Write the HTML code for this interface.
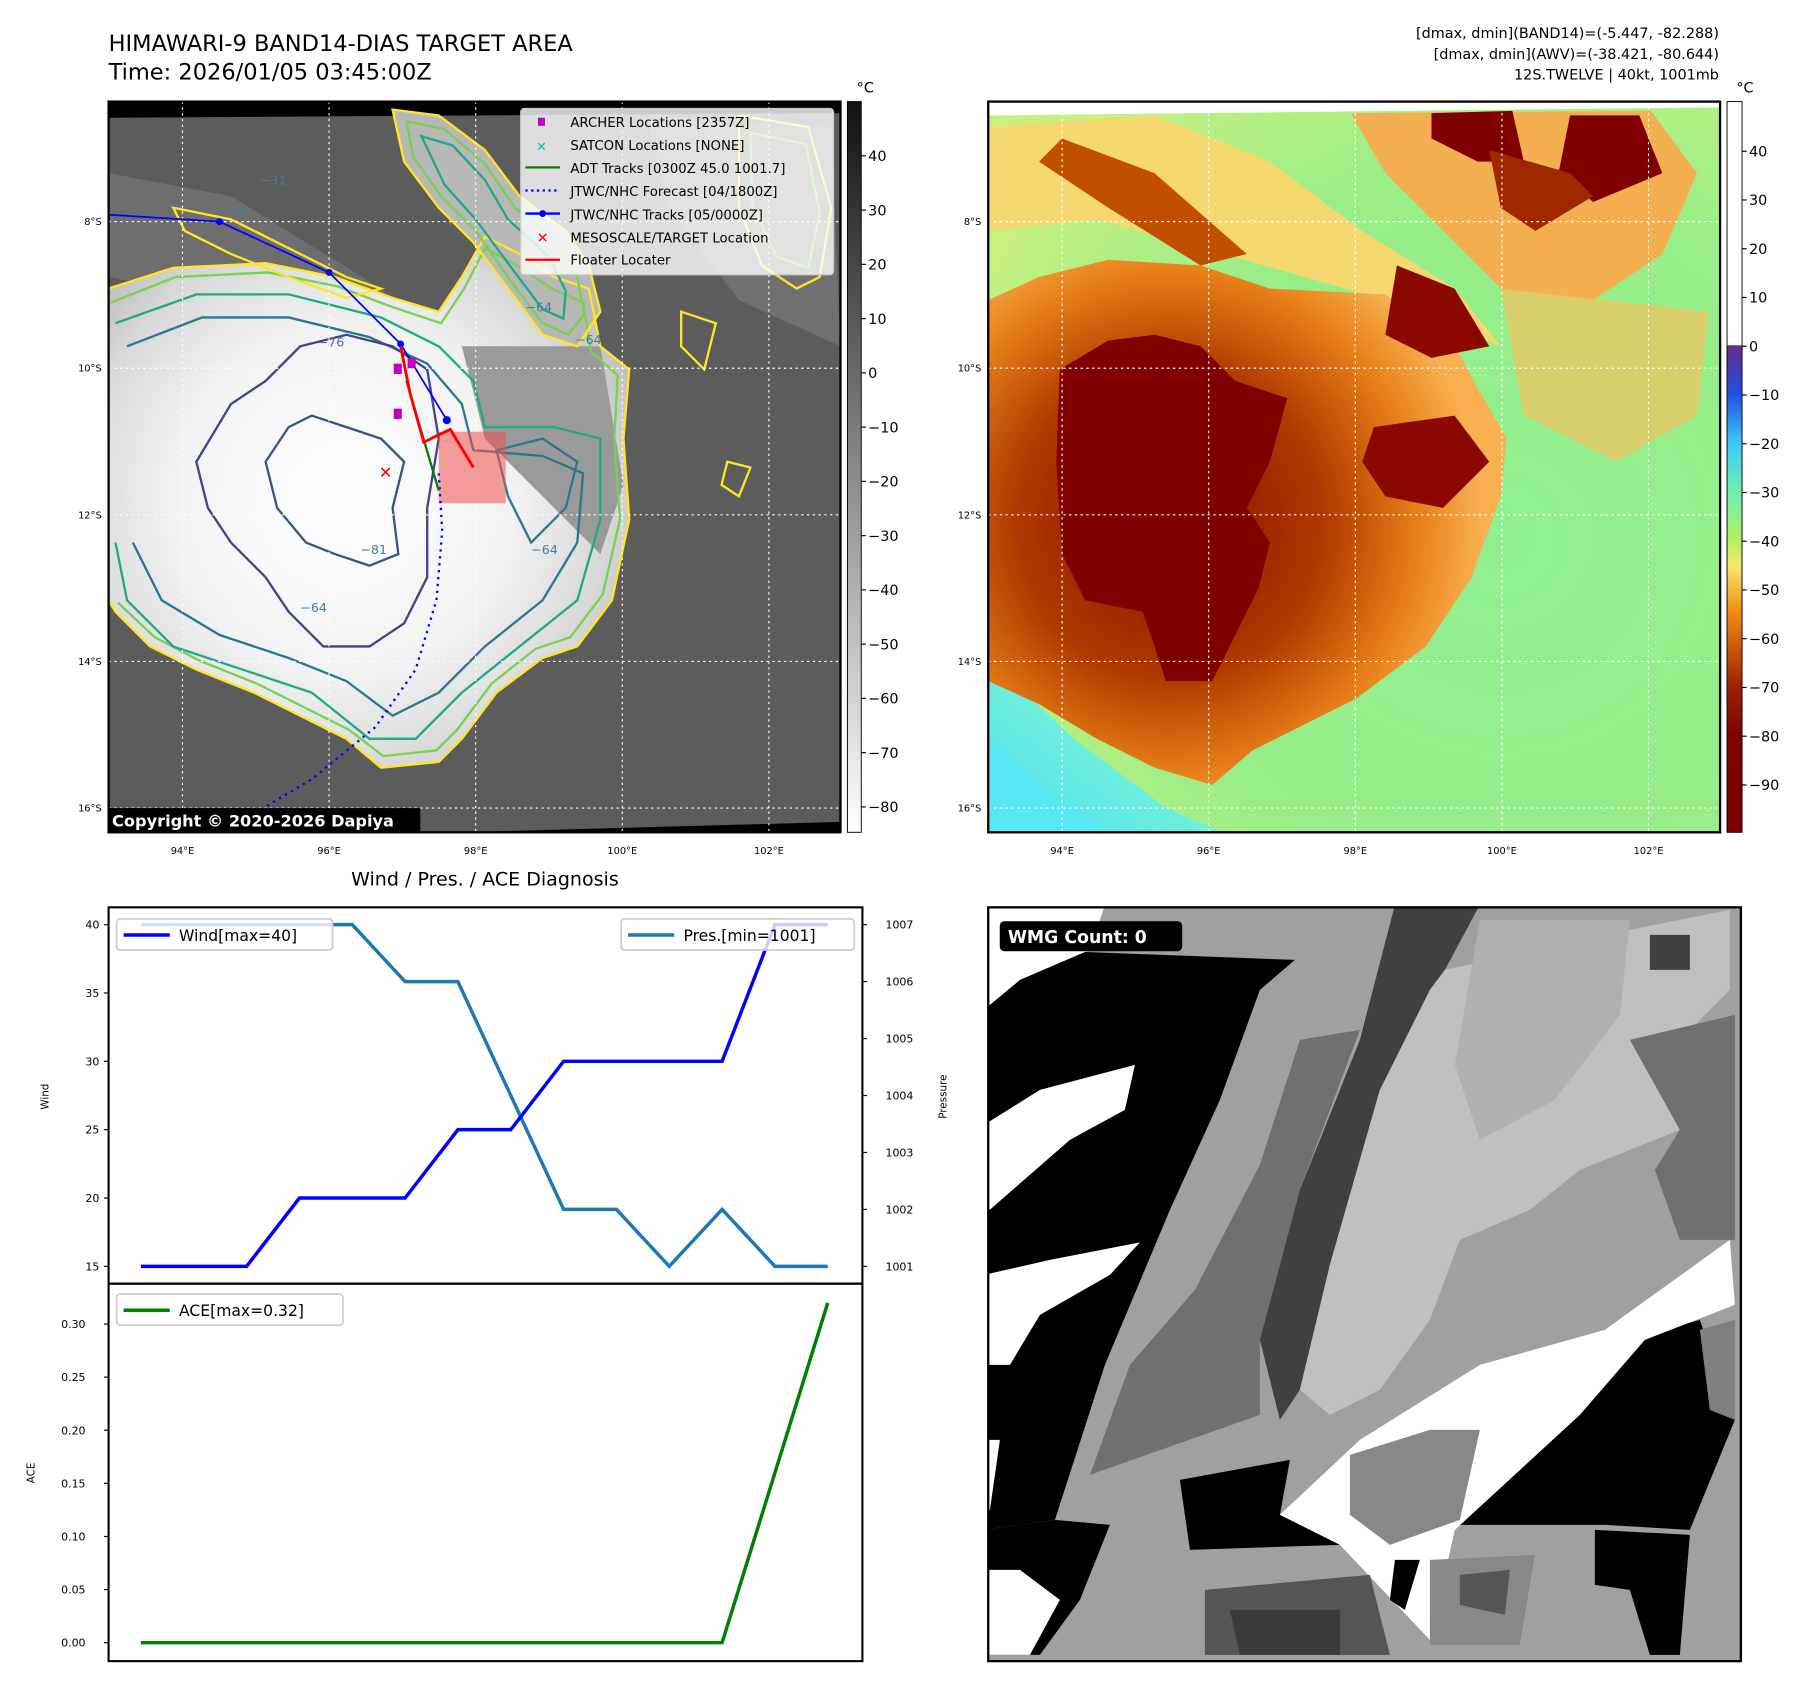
<!DOCTYPE html>
<html><head><meta charset="utf-8"><style>
html,body{margin:0;padding:0;background:#fff;overflow:hidden;width:1801px;height:1690px;}
svg{display:block;font-family:"DejaVu Sans","Liberation Sans",sans-serif;}
</style></head><body>
<svg id="root" xmlns="http://www.w3.org/2000/svg" width="1801" height="1690" viewBox="0 0 1560 1464">
<defs>
  <radialGradient id="irblob" cx="0.45" cy="0.5" r="0.6">
    <stop offset="0" stop-color="#ffffff"/><stop offset="0.55" stop-color="#f2f2f2"/><stop offset="0.85" stop-color="#d8d8d8"/><stop offset="1" stop-color="#c0c0c0"/>
  </radialGradient>
  <linearGradient id="cbL" x1="0" y1="0" x2="0" y2="1">
    <stop offset="0" stop-color="#111"/><stop offset="1" stop-color="#fff"/>
  </linearGradient>
  <linearGradient id="cbR" x1="0" y1="0" x2="0" y2="1">
    <stop offset="0" stop-color="#fff"/><stop offset="0.333" stop-color="#fff"/>
    <stop offset="0.334" stop-color="#6a2a8a"/><stop offset="0.40" stop-color="#2050e0"/>
    <stop offset="0.468" stop-color="#40c8f8"/><stop offset="0.534" stop-color="#70f0b0"/>
    <stop offset="0.60" stop-color="#b0f060"/><stop offset="0.635" stop-color="#f8e870"/>
    <stop offset="0.70" stop-color="#f08a10"/><stop offset="0.80" stop-color="#a02000"/>
    <stop offset="0.87" stop-color="#800000"/><stop offset="1" stop-color="#7a0000"/>
  </linearGradient>
  <radialGradient id="greenbg" cx="0.7" cy="0.6" r="0.8">
    <stop offset="0" stop-color="#90f090"/><stop offset="0.6" stop-color="#98ee88"/><stop offset="1" stop-color="#c8f080"/>
  </radialGradient>
  <linearGradient id="cyanbl" x1="0" y1="1" x2="1" y2="0">
    <stop offset="0" stop-color="#50e0f8"/><stop offset="0.5" stop-color="#70f0d8"/><stop offset="1" stop-color="#90f0a0" stop-opacity="0"/>
  </linearGradient>
  <radialGradient id="halo" cx="0.35" cy="0.5" r="0.6">
    <stop offset="0" stop-color="#8a0800"/><stop offset="0.5" stop-color="#b03a00"/><stop offset="0.8" stop-color="#e88018"/><stop offset="1" stop-color="#f8b050"/>
  </radialGradient>
  <clipPath id="clipL"><rect x="94" y="88" width="634" height="633"/></clipPath>
  <clipPath id="clipR"><rect x="856" y="88" width="634" height="633"/></clipPath>
  <clipPath id="clipW"><rect x="856" y="786" width="652" height="653"/></clipPath>
</defs>

<text x="94" y="44" font-size="19.5">HIMAWARI-9 BAND14-DIAS TARGET AREA</text>
<text x="94" y="69" font-size="19.5">Time: 2026/01/05 03:45:00Z</text>
<g font-size="12.5" text-anchor="end">
  <text x="1489" y="33">[dmax, dmin](BAND14)=(-5.447, -82.288)</text>
  <text x="1489" y="51">[dmax, dmin](AWV)=(-38.421, -80.644)</text>
  <text x="1489" y="69">12S.TWELVE | 40kt, 1001mb</text>
</g>

<!-- LEFT MAP -->
<g clip-path="url(#clipL)">
  <rect x="94" y="88" width="634" height="633" fill="#5c5c5c"/>
  <path d="M94,88 H728 V98 L94,102 Z" fill="#000"/>
  <path d="M400,721 L728,712 V721 Z" fill="#000"/>
  <path d="M94,150 L200,170 L330,250 L360,280 L300,300 L200,260 L94,240Z" fill="#6e6e6e"/>
  <path d="M560,100 L720,110 L728,300 L640,260 L580,180Z" fill="#707070"/>
  <path d="M94,250 150,232 230,228 290,240 340,258 380,270 400,240 420,205 450,220 480,240 510,250 520,300 545,320 540,380 545,450 530,520 500,560 470,570 430,600 400,640 380,660 330,665 300,640 260,620 220,600 170,580 130,560 100,530 94,520Z" fill="url(#irblob)"/>
  <path d="M340,95 380,100 420,130 450,170 490,200 510,230 520,270 500,300 470,290 440,250 410,210 380,180 350,140Z" fill="#b8b8b8"/>
  <path d="M400,300 L520,300 L540,420 L520,480 L470,430 L420,380Z" fill="#9a9a9a"/>
  <g fill="none" stroke-width="2">
    <path d="M94,250 150,232 230,228 290,240 340,258 380,270 400,240 420,205 450,220 480,240 510,250 520,300 545,320 540,380 545,450 530,520 500,560 470,570 430,600 400,640 380,660 330,665 300,640 260,620 220,600 170,580 130,560 100,530 94,520" stroke="#fde725"/>
    <path d="M96,262 152,240 232,236 292,248 340,266 382,280 402,250 420,215 448,230 478,250 505,262 512,305 535,325 532,380 537,450 522,515 494,552 464,562 426,592 396,632 378,650 332,655 302,632 262,612 222,592 172,572 134,552 102,522" stroke="#7ad151"/>
    <path d="M100,280 170,255 250,255 330,275 380,300 410,330 420,370 480,370 520,380 520,450 500,520 450,560 400,600 360,640 320,640 270,600 210,580 150,560 110,520 100,470" stroke="#22a884"/>
    <path d="M110,300 175,275 250,275 320,292 370,315 400,350 410,390 470,395 505,410 500,470 470,520 420,560 380,600 340,620 300,590 250,570 190,550 140,520 115,470" stroke="#2a788e"/>
    <path d="M170,400 200,350 230,330 260,300 300,290 340,300 370,320 380,380 370,440 370,500 350,540 320,560 280,560 250,530 230,500 200,470 180,440Z" stroke="#414487"/>
    <path d="M230,400 250,370 270,360 300,370 330,380 350,400 340,440 345,480 320,490 290,480 265,470 240,440Z" stroke="#3b528b"/>
    <path d="M340,95 380,100 420,130 450,170 490,200 510,230 520,270 500,300 470,290 440,250 410,210 380,180 350,140Z" stroke="#fde725"/>
    <path d="M352,105 385,112 420,142 446,180 484,210 500,240 506,272 492,290 470,280 440,240 412,200 382,170 358,136Z" stroke="#7ad151"/>
    <path d="M365,118 392,126 420,156 440,190 475,222 490,252 488,276 470,268 440,228 412,190 385,160Z" stroke="#22a884"/>
    <path d="M150,180 200,190 250,215 300,240 330,250 300,258 250,240 200,220 160,200Z" stroke="#fde725"/>
    <path d="M640,100 700,110 720,180 710,240 690,250 660,230 640,180Z" stroke="#fde725"/>
    <path d="M650,115 698,125 710,185 700,232 672,222 652,178Z" stroke="#7ad151"/>
    <path d="M430,390 470,380 500,400 490,440 460,470 440,430Z" stroke="#2a788e"/>
    <path d="M590,270 620,280 610,320 590,300Z" stroke="#fde725"/>
    <path d="M630,400 650,405 640,430 625,420Z" stroke="#fde725"/>
  </g>
  <g fill="#4a7a9a" font-size="11">
    <text x="225" y="160">−31</text><text x="190" y="187">−31</text><text x="275" y="300">−76</text>
    <text x="260" y="530">−64</text><text x="312" y="480">−81</text><text x="455" y="270">−64</text>
    <text x="498" y="298">−64</text><text x="460" y="480">−64</text>
  </g>
  <g stroke="#fff" stroke-width="1" stroke-dasharray="2,3">
    <line x1="158" y1="88" x2="158" y2="721"/><line x1="285" y1="88" x2="285" y2="721"/><line x1="412" y1="88" x2="412" y2="721"/><line x1="539" y1="88" x2="539" y2="721"/><line x1="666" y1="88" x2="666" y2="721"/>
    <line x1="94" y1="192" x2="728" y2="192"/><line x1="94" y1="319" x2="728" y2="319"/><line x1="94" y1="446" x2="728" y2="446"/><line x1="94" y1="573" x2="728" y2="573"/><line x1="94" y1="700" x2="728" y2="700"/>
  </g>
  <rect x="380" y="374" width="58" height="62" fill="#f05050" opacity="0.55"/>
  <polyline points="380,410 383,460 378,520 360,580 325,630 270,675 228,700" fill="none" stroke="#0000ff" stroke-width="2" stroke-dasharray="2,4"/>
  <polyline points="94,186 190,192 285,236 347,298 387,364" fill="none" stroke="#0000ff" stroke-width="1.5"/>
  <g fill="#0000ff"><circle cx="190" cy="192" r="3"/><circle cx="285" cy="236" r="3"/><circle cx="347" cy="298" r="3"/><circle cx="387" cy="364" r="3.5"/></g>
  <line x1="352" y1="330" x2="380" y2="425" stroke="#008000" stroke-width="2"/>
  <polyline points="347,300 355,340 367,383 390,372 410,405" fill="none" stroke="#ff0000" stroke-width="2.5"/>
  <g fill="#c000c0"><rect x="341" y="315" width="7" height="9"/><rect x="353" y="310" width="7" height="9"/><rect x="341" y="354" width="7" height="9"/></g>
  <text x="334" y="414" fill="#ff0000" font-size="14" font-weight="bold" text-anchor="middle">✕</text>
  <rect x="94" y="700" width="270" height="21" fill="#000"/>
  <text x="97" y="716" fill="#fff" font-size="14" font-weight="bold">Copyright © 2020-2026 Dapiya</text>
</g>
<rect x="94" y="88" width="634" height="633" fill="none" stroke="#000" stroke-width="2"/>
<g>
  <rect x="451" y="94" width="271" height="144" rx="3" fill="#fff" fill-opacity="0.8" stroke="#ccc"/>
  <g font-size="11.5" fill="#000">
    <rect x="466" y="102" width="6" height="7" fill="#c000c0"/><text x="494" y="110">ARCHER Locations [2357Z]</text>
    <text x="469" y="131" fill="#00c0c0" font-size="11" text-anchor="middle" font-weight="bold">✕</text><text x="494" y="130">SATCON Locations [NONE]</text>
    <line x1="455" y1="145" x2="485" y2="145" stroke="#008000" stroke-width="2"/><text x="494" y="150">ADT Tracks [0300Z 45.0 1001.7]</text>
    <line x1="455" y1="165" x2="485" y2="165" stroke="#0000ff" stroke-width="2" stroke-dasharray="2,3"/><text x="494" y="170">JTWC/NHC Forecast [04/1800Z]</text>
    <line x1="455" y1="185" x2="485" y2="185" stroke="#0000ff" stroke-width="2"/><circle cx="470" cy="185" r="3" fill="#0000ff"/><text x="494" y="190">JTWC/NHC Tracks [05/0000Z]</text>
    <text x="470" y="210" fill="#ff0000" font-size="12" text-anchor="middle" font-weight="bold">✕</text><text x="494" y="210">MESOSCALE/TARGET Location</text>
    <line x1="455" y1="225" x2="485" y2="225" stroke="#ff0000" stroke-width="2"/><text x="494" y="229">Floater Locater</text>
  </g>
</g>
<rect x="734" y="88" width="12" height="633" fill="url(#cbL)" stroke="#000" stroke-width="0.8"/>
<text x="742" y="80" font-size="12.5">°C</text>
<g id="cbLticks" font-size="12.5"></g>

<!-- RIGHT MAP -->
<g clip-path="url(#clipR)">
  <rect x="856" y="88" width="634" height="633" fill="url(#greenbg)"/>
  <path d="M856,88 H1490 V93 L856,100Z" fill="#fff"/>
  <path d="M856,570 L930,640 L1010,700 L1060,721 L856,721Z" fill="url(#cyanbl)"/>
  <path d="M856,640 L900,680 L960,721 L856,721Z" fill="#58e8f4"/>
  <path d="M856,110 L1000,100 L1100,140 L1180,200 L1260,250 L1300,300 L1200,260 L1060,220 L950,190 L856,200Z" fill="#f6d870"/>
  <path d="M1170,98 L1430,96 L1470,150 L1440,220 L1380,260 L1300,250 L1250,200 L1200,150Z" fill="#f4b050"/>
  <path d="M856,260 900,240 960,225 1040,230 1100,250 1200,255 1260,300 1305,380 1300,430 1275,500 1235,560 1175,605 1125,630 1085,650 1050,680 1000,665 950,640 900,610 856,590Z" fill="url(#halo)"/>
  <path d="M920,120 L1000,150 L1080,220 L1040,230 L960,180 L900,140Z" fill="#c05000"/>
  <path d="M1240,98 L1310,96 L1320,140 L1280,140 L1240,120Z" fill="#800000"/>
  <path d="M1360,100 L1420,100 L1440,150 L1380,175 L1350,150Z" fill="#800000"/>
  <path d="M1290,130 L1360,150 L1380,170 L1330,200 L1300,180Z" fill="#a02800"/>
  <path d="M918,320 960,295 1000,290 1040,300 1070,330 1115,345 1100,400 1080,440 1100,470 1090,510 1070,550 1050,590 1010,590 1000,560 990,530 940,520 920,480 915,400Z" fill="#800000"/>
  <path d="M1210,230 L1260,250 L1290,300 L1240,310 L1200,290Z" fill="#8a0800"/>
  <path d="M1190,370 L1260,360 L1290,400 L1250,440 L1200,430 L1180,400Z" fill="#8a0800"/>
  <path d="M1300,250 L1480,270 L1470,360 L1400,400 L1320,360Z" fill="#f4c060" opacity="0.7"/>
  <g stroke="#fff" stroke-width="1" stroke-dasharray="2,3">
    <line x1="920" y1="88" x2="920" y2="721"/><line x1="1047" y1="88" x2="1047" y2="721"/><line x1="1174" y1="88" x2="1174" y2="721"/><line x1="1301" y1="88" x2="1301" y2="721"/><line x1="1428" y1="88" x2="1428" y2="721"/>
    <line x1="856" y1="192" x2="1490" y2="192"/><line x1="856" y1="319" x2="1490" y2="319"/><line x1="856" y1="446" x2="1490" y2="446"/><line x1="856" y1="573" x2="1490" y2="573"/><line x1="856" y1="700" x2="1490" y2="700"/>
  </g>
</g>
<rect x="856" y="88" width="634" height="633" fill="none" stroke="#000" stroke-width="2"/>
<rect x="1496" y="88" width="13" height="633" fill="url(#cbR)" stroke="#000" stroke-width="0.8"/>
<text x="1504" y="80" font-size="12.5">°C</text>
<g id="cbRticks" font-size="12.5"></g>
<g id="mapticks" font-size="8.5"></g>

<!-- WMG IMAGE -->
<g clip-path="url(#clipW)">
  <rect x="856" y="786" width="652" height="653" fill="#a0a0a0"/>
  <g transform="translate(848.8,770.9) scale(0.4331)">
    <path d="M8,240 100,120 630,140 560,200 480,420 380,640 250,950 150,1260 8,1280Z" fill="#000"/>
    <path d="M8,30 250,30 220,120 80,180 8,240Z" fill="#fff"/>
    <path d="M8,470 120,400 310,350 290,440 180,500 8,650Z" fill="#fff"/>
    <path d="M8,770 140,740 320,705 260,770 120,850 60,950 8,950Z" fill="#fff"/>
    <path d="M8,1100 40,1100 20,1240 8,1240Z" fill="#fff"/>
    <path d="M8,1280 150,1260 260,1270 200,1420 120,1530 8,1530Z" fill="#000"/>
    <path d="M8,1360 80,1360 160,1420 100,1530 8,1530Z" fill="#fff"/>
    <path d="M640,300 760,280 640,600 560,900 560,1050 220,1170 300,950 430,800 560,550Z" fill="#707070"/>
    <path d="M830,30 1000,30 930,160 800,400 700,750 640,1000 600,1060 560,900 640,600 760,300Z" fill="#404040"/>
    <path d="M930,160 1300,80 1500,40 1500,200 1350,350 1400,480 1200,560 1100,640 960,700 900,860 800,1000 700,1050 640,1000 700,750 800,400 900,200Z" fill="#c0c0c0"/>
    <path d="M1000,60 1300,60 1280,250 1150,420 1000,500 950,350Z" fill="#b0b0b0"/>
    <path d="M1300,300 1510,250 1510,700 1400,700 1350,560 1400,480Z" fill="#707070"/>
    <path d="M1340,90 1420,90 1420,160 1340,160Z" fill="#404040"/>
    <path d="M1000,1000 1300,900 1440,860 1510,1060 1420,1280 1250,1270 960,1270Z" fill="#000"/>
    <path d="M760,1100 1000,950 1250,880 1500,700 1510,830 1330,900 1200,1050 950,1280 900,1500 720,1310 600,1250Z" fill="#fff"/>
    <path d="M740,1130 900,1080 1000,1080 960,1260 820,1310 740,1250Z" fill="#888"/>
    <path d="M900,1340 1110,1330 1080,1510 900,1510Z" fill="#888"/>
    <path d="M960,1370 1060,1360 1050,1450 960,1430Z" fill="#555"/>
    <path d="M450,1400 780,1370 820,1530 450,1530Z" fill="#555"/>
    <path d="M500,1440 720,1440 720,1530 520,1530Z" fill="#3a3a3a"/>
    <path d="M1230,1280 1420,1290 1400,1530 1340,1530 1300,1400 1230,1390Z" fill="#000"/>
    <path d="M1440,880 1510,860 1510,1060 1460,1040Z" fill="#808080"/>
    <path d="M400,1180 620,1140 600,1250 720,1310 420,1320Z" fill="#000"/>
    <path d="M830,1340 880,1340 850,1440 820,1420Z" fill="#000"/>
  </g>
  <rect x="866" y="798" width="158" height="26" rx="4" fill="#000"/>
  <text x="873" y="817" fill="#fff" font-size="15" font-weight="bold">WMG Count: 0</text>
</g>
<rect x="856" y="786" width="652" height="653" fill="none" stroke="#000" stroke-width="2"/>

<text x="420" y="767" font-size="16.5" text-anchor="middle">Wind / Pres. / ACE Diagnosis</text>
<g id="chart"></g>
</svg>
<script>
const windValues = [15,15,15,20,20,20,25,25,30,30,30,30,40,40];
const presValues = [1007,1007,1007,1007,1007,1006,1006,1004,1002,1002,1001,1002,1001,1001];
const aceValues = [0,0,0,0,0,0,0,0,0,0,0,0,0.16,0.32];
const windTicks = [15,20,25,30,35,40];
const presTicks = [1001,1002,1003,1004,1005,1006,1007];
const aceTicks = [0,0.05,0.10,0.15,0.20,0.25,0.30];
const cbLTicks = [40,30,20,10,0,-10,-20,-30,-40,-50,-60,-70,-80];
const cbRTicks = [40,30,20,10,0,-10,-20,-30,-40,-50,-60,-70,-80,-90];
const latTicks = ['8°S','10°S','12°S','14°S','16°S'];
const lonTicks = ['94°E','96°E','98°E','100°E','102°E'];

const NS='http://www.w3.org/2000/svg';
function mk(tag, attrs, parent, txt){const e=document.createElementNS(NS,tag);for(const k in attrs)e.setAttribute(k,attrs[k]);if(txt!==undefined)e.textContent=txt;parent.appendChild(e);return e;}
const fmt=v=>String(v).replace('-','\u2212');

const cbL=document.getElementById('cbLticks');
cbLTicks.forEach(v=>{const y=135+(40-v)*4.7;
  mk('line',{x1:746,y1:y,x2:750,y2:y,stroke:'#000'},cbL);
  const t=mk('text',{x:752,y:y+4.5},cbL,fmt(v));
  
  });
const cbR=document.getElementById('cbRticks');
cbRTicks.forEach(v=>{const y=131+(40-v)*4.223;
  mk('line',{x1:1509,y1:y,x2:1513,y2:y,stroke:'#000'},cbR);
  const t=mk('text',{x:1515,y:y+4.5},cbR,fmt(v));
  
  });
const mt=document.getElementById('mapticks');
[94,856].forEach(ox=>{
  latTicks.forEach((s,i)=>{const t=mk('text',{x:ox-6,y:192+i*127+3,'text-anchor':'end'},mt,s);
    
    });
  lonTicks.forEach((s,i)=>{const t=mk('text',{x:ox+64+i*127,y:740,'text-anchor':'middle'},mt,s);
    
    });
});

const g=document.getElementById('chart');
const X0=94,X1=747,TOP=786,MID=1112,BOT=1439;
const xAt=i=>122+i*(717-122)/(windValues.length-1);
const yWind=v=>1097-(v-15)*(1097-801)/25;
const yPres=v=>1097-(v-1001)*(1097-801)/6;
const yAce=v=>1423-v*(1423-1147)/0.30;
function line(vals,yf,color,w,name){
  const p=mk('polyline',{points:vals.map((v,i)=>xAt(i)+','+yf(v)).join(' '),fill:'none',stroke:color,'stroke-width':w,'stroke-linejoin':'miter'},g);
  
  }
line(presValues,yPres,'#1f77b4',3,'pressure-line');
line(windValues,yWind,'#0000ff',3,'wind-line');
line(aceValues,yAce,'#008000',3,'ace-line');
mk('rect',{x:X0,y:TOP,width:X1-X0,height:MID-TOP,fill:'none',stroke:'#000','stroke-width':1.8},g);
mk('rect',{x:X0,y:MID,width:X1-X0,height:BOT-MID,fill:'none',stroke:'#000','stroke-width':1.8},g);
windTicks.forEach(v=>{const y=yWind(v);mk('line',{x1:X0-4,y1:y,x2:X0,y2:y,stroke:'#000'},g);
  const t=mk('text',{x:X0-8,y:y+3.5,'font-size':9.5,'text-anchor':'end'},g,String(v));
  
  });
presTicks.forEach(v=>{const y=yPres(v);mk('line',{x1:X1,y1:y,x2:X1+4,y2:y,stroke:'#000'},g);
  const t=mk('text',{x:X1+20,y:y+3.5,'font-size':9.5},g,String(v));
  
  });
aceTicks.forEach(v=>{const y=yAce(v);mk('line',{x1:X0-4,y1:y,x2:X0,y2:y,stroke:'#000'},g);
  const t=mk('text',{x:X0-20,y:y+3.5,'font-size':9.5,'text-anchor':'end'},g,v.toFixed(2));
  
  });
const wl=mk('text',{x:0,y:0,'font-size':9,transform:'translate(42,950) rotate(-90)','text-anchor':'middle'},g,'Wind');


const pl=mk('text',{x:0,y:0,'font-size':9,transform:'translate(820,950) rotate(-90)','text-anchor':'middle'},g,'Pressure');


const al=mk('text',{x:0,y:0,'font-size':9,transform:'translate(30,1276) rotate(-90)','text-anchor':'middle'},g,'ACE');


function legend(x,y,w,label,color,name){
  const lg=mk('g',{},g);
  
  
  mk('rect',{x:x,y:y,width:w,height:27,rx:3,fill:'#fff','fill-opacity':0.8,stroke:'#ccc','stroke-width':1.5},lg);
  mk('line',{x1:x+6,y1:y+14,x2:x+46,y2:y+14,stroke:color,'stroke-width':3},lg);
  mk('text',{x:x+54,y:y+19,'font-size':13.5},lg,label);}
legend(101,796,187,'Wind[max=40]','#0000ff','wind-legend');
legend(538,796,202,'Pres.[min=1001]','#1f77b4','pressure-legend');
legend(101,1121,196,'ACE[max=0.32]','#008000','ace-legend');
</script>
</body></html>
